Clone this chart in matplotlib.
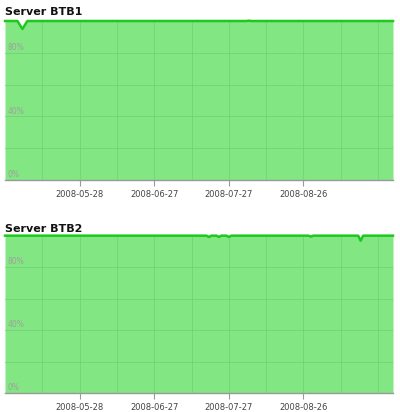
import numpy as np
import matplotlib
matplotlib.use("Agg")
import matplotlib.pyplot as plt
import matplotlib.dates as mdates
import matplotlib.transforms as mtransforms

# ---------- data (availability %) ----------
titles = ["Server BTB1", "Server BTB2"]

btb1_dates = ["2008-04-28", "2008-05-03", "2008-05-05", "2008-05-07", "2008-08-03",
              "2008-08-04", "2008-08-05", "2008-10-01"]
btb1_vals = [100, 100, 95.0, 100, 100, 100.2, 100, 100]

btb2_dates = ["2008-04-28", "2008-07-18", "2008-07-19", "2008-07-20", "2008-07-22",
              "2008-07-23", "2008-07-24", "2008-07-26", "2008-07-27", "2008-07-28",
              "2008-08-28", "2008-08-29", "2008-08-30", "2008-09-17", "2008-09-18",
              "2008-09-19", "2008-10-01"]
btb2_vals = [100, 100, 99.2, 100, 100, 99.2, 100, 100, 99.2, 100,
             100, 99.4, 100, 100, 96.8, 100, 100]

tick_dates = ["2008-05-28", "2008-06-27", "2008-07-27", "2008-08-26"]
grid_dates = ["2008-05-13", "2008-06-12", "2008-07-12", "2008-08-11", "2008-09-10", "2008-09-25"]
pct_labels = [0, 40, 80]

x_start, x_end = "2008-04-28", "2008-10-01"

FILL = "#82e682"
LINE = "#1ec81e"
GRID = "#72d072"

fig = plt.figure(figsize=(4.0, 4.12), dpi=100)
ax_pos = [[0.0125, 0.563, 0.970, 0.386], [0.0125, 0.046, 0.970, 0.382]]
title_y = [0.972, 0.443]

series = [(btb1_dates, btb1_vals), (btb2_dates, btb2_vals)]
for i, (dates, vals) in enumerate(series):
    ax = fig.add_axes(ax_pos[i])
    d = np.array(dates, dtype="datetime64[D]")
    ax.fill_between(d, 0, vals, color=FILL, linewidth=0, zorder=1)
    ax.plot(d, vals, color=LINE, linewidth=1.8, zorder=3, clip_on=False)
    ax.set_xlim(np.datetime64(x_start), np.datetime64(x_end))
    ax.set_ylim(0, 100)

    ax.set_xticks(np.array(tick_dates, dtype="datetime64[D]"))
    ax.set_xticks(np.array(grid_dates, dtype="datetime64[D]"), minor=True)
    ax.xaxis.set_major_formatter(mdates.DateFormatter("%Y-%m-%d"))
    ax.tick_params(axis="x", which="major", length=4, width=0.8, color="#999999",
                   labelsize=6, labelcolor="#444444", pad=3)
    ax.tick_params(axis="x", which="minor", length=0)
    ax.set_yticks([20, 40, 60, 80])
    ax.tick_params(axis="y", length=0, labelleft=False)
    ax.grid(True, which="both", color=GRID, linewidth=0.5, zorder=2)
    ax.set_axisbelow(False)

    for s in ["top", "left", "right"]:
        ax.spines[s].set_visible(False)
    ax.spines["bottom"].set_color("#999999")
    ax.spines["bottom"].set_linewidth(1.0)

    trans = mtransforms.blended_transform_factory(ax.transAxes, ax.transData)
    for p in pct_labels:
        ax.text(0.006, p + 0.5, f"{p}%", transform=trans, fontsize=5.5,
                color="#a0a0a0", ha="left", va="bottom", zorder=4)

    fig.text(0.012, title_y[i], titles[i], fontsize=8, fontweight="bold",
             color="#111111", ha="left", va="center")

fig.savefig("out.png", dpi=100)
